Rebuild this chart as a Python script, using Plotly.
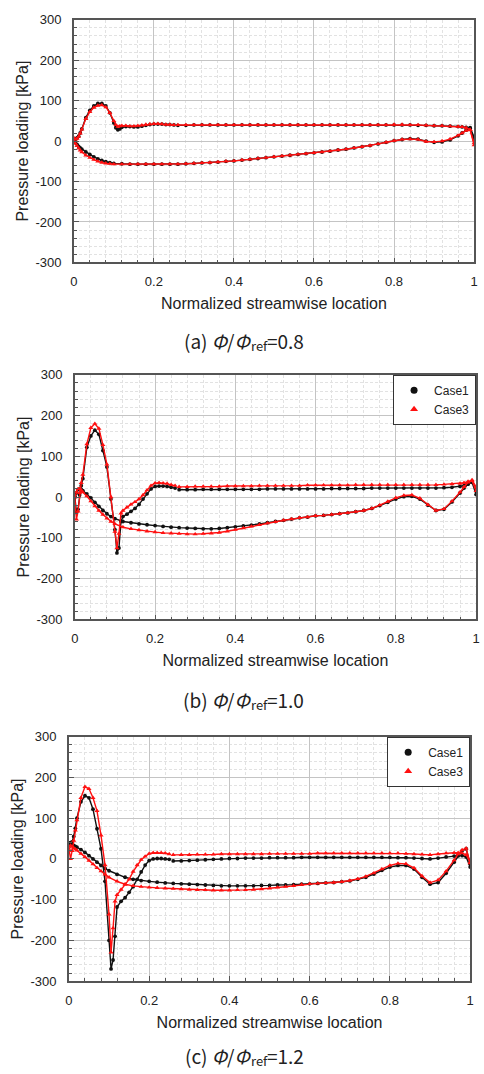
import plotly.graph_objects as go

# ---------------- shared x locations ----------------
X_FRONT = [0, 0.004, 0.008, 0.012, 0.016, 0.02, 0.03, 0.04, 0.05, 0.06, 0.07, 0.08, 0.09, 0.1,
           0.105, 0.11, 0.115, 0.12, 0.13, 0.14, 0.15, 0.16, 0.17, 0.18, 0.19, 0.2, 0.21, 0.22,
           0.23, 0.24, 0.25]
X_REAR = [0.26, 0.28, 0.30, 0.32, 0.34, 0.36, 0.38, 0.40, 0.42, 0.44, 0.46, 0.48, 0.50, 0.52,
          0.54, 0.56, 0.58, 0.60, 0.62, 0.64, 0.66, 0.68, 0.70, 0.72, 0.74, 0.76, 0.78, 0.80,
          0.82, 0.84, 0.86, 0.88, 0.90, 0.92, 0.94, 0.96, 0.97, 0.98, 0.99, 1.0]
X_LOWER = [0, 0.004, 0.008, 0.012, 0.016, 0.02, 0.03, 0.04, 0.05, 0.06, 0.07, 0.08, 0.09, 0.10,
           0.12, 0.14, 0.16, 0.18, 0.20, 0.22, 0.24, 0.26, 0.28, 0.30, 0.32, 0.34, 0.36, 0.38,
           0.40, 0.42, 0.44, 0.46, 0.48, 0.50, 0.52, 0.54, 0.56, 0.58, 0.60, 0.62, 0.64, 0.66,
           0.68, 0.70, 0.72, 0.74, 0.76, 0.78, 0.80, 0.82, 0.84, 0.86, 0.88, 0.90, 0.92, 0.94,
           0.96, 0.97, 0.98, 0.99, 1.0]

# ---------------- (a) phi/phi_ref = 0.8 ----------------
A_CASE1_FRONT = [3, 5, 8, 12, 20, 30, 58, 76, 87, 93, 93, 87, 70, 45, 33, 28, 30, 34, 36, 36,
                 35, 35, 37, 39, 41, 42, 42, 42, 41, 41, 40]
A_CASE3_FRONT = [8, 4, 6, 11, 19, 29, 55, 72, 83, 88, 89, 84, 70, 50, 40, 36, 37, 38, 38, 37,
                 37, 38, 39, 41, 42, 43, 43, 42, 41, 41, 40]
A_CASE1_REAR = [39, 39, 40, 40, 40, 40, 40, 40, 40, 40, 40, 40, 40, 40, 40, 40, 40, 40, 40, 40,
                40, 40, 40, 40, 40, 40, 40, 40, 40, 40, 39, 39, 38, 38, 37, 36, 35, 34, 32, 5]
A_CASE3_REAR = [40, 40, 40, 40, 40, 40, 40, 40, 40, 40, 40, 40, 40, 40, 40, 40, 40, 40, 40, 40,
                40, 40, 40, 40, 40, 40, 40, 41, 41, 40, 40, 39, 38, 38, 37, 36, 35, 33, 28, -10]
A_CASE1_LOWER = [5, -2, -8, -13, -17, -20, -27, -33, -39, -44, -48, -51, -53, -55,
                 -56, -57, -57, -57, -57, -57, -57, -57, -56, -55, -54, -53, -52, -50,
                 -49, -47, -45, -43, -41, -39, -37, -35, -33, -31, -29, -27, -25, -22,
                 -20, -17, -14, -11, -7, -3, 1, 4, 6, 5, 0, -3, -2, 3,
                 13, 20, 27, 33, 10]
A_CASE3_LOWER = [0, -6, -12, -18, -23, -27, -35, -41, -46, -50, -53, -55, -56, -57,
                 -57, -57, -57, -57, -57, -57, -57, -57, -56, -55, -54, -53, -52, -50,
                 -49, -47, -45, -43, -41, -39, -37, -35, -33, -31, -29, -27, -25, -22,
                 -20, -17, -14, -11, -7, -3, 1, 4, 5, 4, -1, -2, 0, 5,
                 14, 20, 26, 28, -5]

# ---------------- (b) phi/phi_ref = 1.0 ----------------
B_CASE1_FRONT = [2, -38, -30, 5, 28, 45, 122, 150, 164, 154, 114, 74, -5, -80,
                 -137, -125, -60, -48, -42, -35, -28, -18, -5, 8, 20, 26, 27, 27, 26, 24, 22]
B_CASE3_FRONT = [0, -55, -35, 10, 35, 55, 130, 170, 180, 168, 128, 80, 0, -85,
                 -125, -90, -40, -33, -25, -18, -12, -5, 5, 17, 28, 34, 35, 34, 33, 30, 28]
B_CASE1_REAR = [18, 18, 18, 19, 19, 19, 19, 19, 19, 19, 19, 20, 20, 20, 20, 20, 20, 20, 20, 21,
                21, 21, 21, 21, 22, 22, 22, 22, 22, 22, 22, 22, 22, 23, 24, 26, 28, 32, 36, 6]
B_CASE3_REAR = [25, 25, 26, 26, 26, 26, 27, 27, 27, 27, 28, 28, 28, 28, 28, 28, 29, 29, 29, 29,
                29, 29, 30, 30, 30, 30, 30, 30, 30, 30, 30, 30, 30, 31, 32, 33, 35, 38, 40, 15]
B_CASE1_LOWER = [0, 10, 18, 20, 19, 16, 8, -2, -13, -23, -33, -41, -48, -53,
                 -60, -63, -66, -68, -70, -72, -74, -75, -76, -77, -78, -78, -77, -75,
                 -73, -71, -69, -66, -63, -60, -57, -54, -51, -49, -46, -45, -43, -41,
                 -39, -36, -33, -28, -21, -13, -5, 1, 2, -5, -20, -33, -30, -12,
                 10, 22, 32, 38, 20]
B_CASE3_LOWER = [0, 12, 20, 20, 17, 12, 2, -10, -22, -33, -43, -52, -60, -66,
                 -74, -78, -81, -84, -86, -88, -89, -90, -91, -91, -90, -89, -87, -84,
                 -80, -76, -72, -68, -64, -61, -57, -54, -51, -49, -46, -45, -43, -41,
                 -39, -36, -33, -28, -20, -11, -2, 4, 5, -3, -19, -33, -29, -10,
                 12, 25, 36, 42, 25]

# ---------------- (c) phi/phi_ref = 1.2 ----------------
C_CASE1_FRONT = [38, 40, 42, 55, 75, 100, 140, 155, 150, 122, 74, 25, -55, -200,
                 -270, -248, -190, -118, -104, -95, -82, -68, -50, -32, -15, -4, 0, 1, 1, 0, -1]
C_CASE3_FRONT = [25, 0, 20, 45, 70, 95, 150, 177, 172, 150, 118, 58, -15, -136,
                 -229, -170, -104, -88, -75, -63, -50, -31, -15, -2, 6, 13, 15, 15, 15, 14, 12]
C_CASE1_REAR = [-5, -5, -4, -3, -2, -1, 0, 1, 1, 2, 2, 2, 3, 3, 3, 3, 4, 4, 4, 4,
                4, 4, 4, 4, 4, 4, 4, 4, 3, 3, 2, 1, 0, 2, 5, 7, 8, 8, 5, -20]
C_CASE3_REAR = [10, 10, 10, 11, 11, 11, 12, 12, 12, 12, 12, 12, 13, 13, 13, 13, 13, 13, 14, 14,
                14, 14, 14, 14, 14, 14, 14, 14, 14, 13, 12, 11, 10, 12, 14, 15, 15, 14, 10, -8]
C_CASE1_LOWER = [38, 37, 35, 33, 31, 29, 23, 16, 8, 0, -8, -16, -23, -29,
                 -38, -45, -50, -53, -55, -57, -59, -60, -61, -62, -63, -64, -65, -66,
                 -66, -66, -66, -66, -65, -65, -64, -64, -63, -62, -61, -60, -59, -58,
                 -56, -54, -50, -45, -37, -28, -20, -16, -16, -25, -45, -62, -58, -35,
                 -8, 8, 20, 25, -12]
C_CASE3_LOWER = [30, 33, 30, 27, 24, 21, 13, 5, -4, -13, -22, -30, -38, -45,
                 -55, -62, -66, -68, -70, -71, -72, -73, -74, -75, -76, -76, -77, -77,
                 -77, -76, -76, -75, -74, -72, -70, -68, -66, -63, -61, -60, -59, -58,
                 -56, -53, -49, -43, -35, -25, -16, -11, -12, -22, -42, -58, -52, -30,
                 -3, 12, 22, 26, -10]

SERIES_NAMES = ["Case1", "Case3"]
X_TICKS = [0, 0.2, 0.4, 0.6, 0.8, 1]
X_TICKTEXT = ["0", "0.2", "0.4", "0.6", "0.8", "1"]
Y_TICKS = [300, 200, 100, 0, -100, -200, -300]
Y_TICKTEXT = ["300", "200", "100", "0", "-100", "-200", "-300"]
X_TITLE = "Normalized streamwise location"
Y_TITLE = "Pressure loading [kPa]"
CAPTIONS = ["(a)", "(b)", "(c)"]
RATIOS = ["0.8", "1.0", "1.2"]

PANELS = [
    (A_CASE1_FRONT, A_CASE1_REAR, A_CASE1_LOWER, A_CASE3_FRONT, A_CASE3_REAR, A_CASE3_LOWER),
    (B_CASE1_FRONT, B_CASE1_REAR, B_CASE1_LOWER, B_CASE3_FRONT, B_CASE3_REAR, B_CASE3_LOWER),
    (C_CASE1_FRONT, C_CASE1_REAR, C_CASE1_LOWER, C_CASE3_FRONT, C_CASE3_REAR, C_CASE3_LOWER),
]

W, H = 484, 1074
# plot areas in pixels: left, right, top, bottom
BOXES = [(71, 478, 13, 259), (72, 480, 373, 621), (66, 474, 740, 988)]
CAPTION_Y = [338, 702, 1063]
CAP_MAIN_R = 253    # right edge of "(a)  Φ/Φ"
CAP_SUB_L = 250     # where the subscript "ref" starts
CAP_VAL_L = 266     # where "=0.8" starts

BLACK = "#111111"
RED = "#ff1010"
FONT = "Liberation Sans, Arial, sans-serif"
CAP_FONT = "Noto Sans CJK KR, Noto Sans, sans-serif"

fig = go.Figure()


def seg(front, rear, lower):
    xs = list(X_FRONT) + [None] + list(X_REAR) + [None] + list(X_LOWER)
    ys = list(front) + [None] + list(rear) + [None] + list(lower)
    return xs, ys


annotations = []
for i, (c1f, c1r, c1l, c3f, c3r, c3l) in enumerate(PANELS):
    n = "" if i == 0 else str(i + 1)
    xa, ya = "x" + n, "y" + n
    x1, y1 = seg(c1f, c1r, c1l)
    x3, y3 = seg(c3f, c3r, c3l)
    fig.add_trace(go.Scatter(x=x1, y=y1, mode="lines+markers", xaxis=xa, yaxis=ya,
                             line=dict(color=BLACK, width=1.4),
                             marker=dict(symbol="circle", size=3.8, color=BLACK),
                             showlegend=False, name=SERIES_NAMES[0]))
    fig.add_trace(go.Scatter(x=x3, y=y3, mode="lines+markers", xaxis=xa, yaxis=ya,
                             line=dict(color=RED, width=1.4),
                             marker=dict(symbol="triangle-up", size=4.5, color=RED),
                             showlegend=False, name=SERIES_NAMES[1]))
    if i > 0:
        lg = "legend" if i == 1 else "legend2"
        fig.add_trace(go.Scatter(x=[None], y=[None], mode="markers", xaxis=xa, yaxis=ya,
                                 marker=dict(symbol="circle", size=7, color=BLACK),
                                 name=SERIES_NAMES[0], legend=lg))
        fig.add_trace(go.Scatter(x=[None], y=[None], mode="markers", xaxis=xa, yaxis=ya,
                                 marker=dict(symbol="triangle-up", size=7, color=RED),
                                 name=SERIES_NAMES[1], legend=lg))

    L, R, T, B = BOXES[i]
    xdom = [L / W, R / W]
    ydom = [1 - B / H, 1 - T / H]
    common = dict(showline=True, mirror=True, linecolor="#555555", linewidth=1.5,
                  showgrid=True, gridcolor="#c4c4c4", gridwidth=1, zeroline=False,
                  ticks="inside", ticklen=5, tickcolor="#555555",
                  tickfont=dict(family=FONT, size=13, color="#222222"))
    minor_common = dict(showgrid=True, gridcolor="#e2e2e2", griddash="3px,2px",
                        ticks="inside", ticklen=3, tickcolor="#555555")
    fig.layout["xaxis" + n] = dict(domain=xdom, range=[0, 1], anchor=ya,
                                   tickvals=X_TICKS, ticktext=X_TICKTEXT,
                                   ticklabelstandoff=6,
                                   title=dict(text=X_TITLE, standoff=10,
                                              font=dict(family=FONT, size=16, color="#222222")),
                                   minor=dict(dtick=0.04, tick0=0, **minor_common),
                                   **common)
    fig.layout["yaxis" + n] = dict(domain=ydom, range=[-300, 300], anchor=xa,
                                   tickvals=Y_TICKS, ticktext=Y_TICKTEXT,
                                   ticklabelstandoff=8,
                                   title=dict(text=Y_TITLE, standoff=3,
                                              font=dict(family=FONT, size=16, color="#222222")),
                                   minor=dict(dtick=20, tick0=0, **minor_common),
                                   **common)
    # caption, built from three pieces (main text, subscript, value)
    cy = 1 - CAPTION_Y[i] / H
    annotations.append(dict(text=CAPTIONS[i] + "\u00a0<i>Φ</i>/<i>Φ</i>",
                            xref="paper", yref="paper", x=CAP_MAIN_R / W, y=cy,
                            showarrow=False, xanchor="right", yanchor="middle", borderpad=0,
                            font=dict(family=CAP_FONT, size=19, color="#222222")))
    annotations.append(dict(text="ref", xref="paper", yref="paper",
                            x=CAP_SUB_L / W, y=1 - (CAPTION_Y[i] + 5) / H,
                            showarrow=False, xanchor="left", yanchor="middle", borderpad=0,
                            font=dict(family=CAP_FONT, size=13, color="#222222")))
    annotations.append(dict(text="=" + RATIOS[i], xref="paper", yref="paper",
                            x=CAP_VAL_L / W, y=cy,
                            showarrow=False, xanchor="left", yanchor="middle", borderpad=0,
                            font=dict(family=CAP_FONT, size=19, color="#222222")))

leg_common = dict(xanchor="right", yanchor="top", bgcolor="white", bordercolor="#333333",
                  borderwidth=1, font=dict(family=FONT, size=12, color="#222222"),
                  itemwidth=30, tracegroupgap=0)
fig.update_layout(
    width=W, height=H, margin=dict(l=0, r=0, t=0, b=0),
    paper_bgcolor="white", plot_bgcolor="white",
    annotations=annotations,
    legend=dict(x=BOXES[1][1] / W, y=1 - BOXES[1][2] / H, **leg_common),
    legend2=dict(x=BOXES[2][1] / W, y=1 - BOXES[2][2] / H, **leg_common),
)

fig.write_html("out.html")
